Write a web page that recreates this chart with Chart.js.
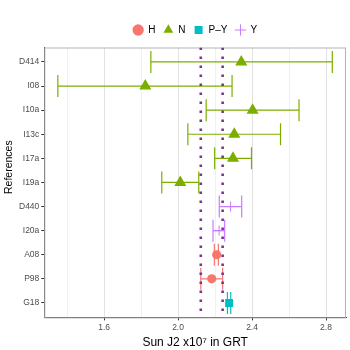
<!DOCTYPE html>
<html>
<head>
<meta charset="utf-8">
<script src="https://cdn.jsdelivr.net/npm/chart.js@4.4.1/dist/chart.umd.min.js"></script>
<style>
  body { margin: 0; background: #fff; }
  canvas { display: block; }
</style>
</head>
<body>
<canvas id="chart" width="350" height="350"></canvas>
<script>
// data
const categories = ["D414", "I08", "I10a", "I13c", "I17a", "I19a", "D440", "I20a", "A08", "P98", "G18"];
const groups = ["N", "N", "N", "N", "N", "N", "Y", "Y", "H", "H", "P-Y"];
const values = [2.342, 1.823, 2.403, 2.304, 2.297, 2.012, 2.284, 2.222, 2.209, 2.182, 2.276];
const lower = [1.853, 1.350, 2.152, 2.053, 2.198, 1.912, 2.223, 2.189, 2.196, 2.123, 2.267];
const upper = [2.834, 2.292, 2.654, 2.554, 2.397, 2.112, 2.344, 2.252, 2.218, 2.241, 2.285];
const refLines = [2.123, 2.241];
const xTicks = [1.4, 1.6, 1.8, 2.0, 2.2, 2.4, 2.6, 2.8];
const xLabelled = [1.6, 2.0, 2.4, 2.8];

const groupNames = ["H", "N", "P-Y", "Y"];
const groupLabels = { "H": "H", "N": "N", "P-Y": "P\u2013Y", "Y": "Y" };
const groupColors = { "H": "#F8766D", "N": "#7CAE00", "P-Y": "#00BFC4", "Y": "#C77CFF" };
const groupShapes = { "H": "circle", "N": "triangle", "P-Y": "rect", "Y": "cross" };
const groupSizes = { "H": 4.6, "N": 7, "P-Y": 5.6, "Y": 5 };

const FONT = "'Liberation Sans', Arial, sans-serif";

let datasets = [];

// points, one dataset per group (these make the legend)
groupNames.forEach((g) => {
  let pts = [];
  categories.forEach((c, i) => {
    if (groups[i] === g) pts.push({ x: values[i], y: i });
  });
  datasets.push({
    label: groupLabels[g],
    isLegend: true,
    xAxisID: "x",
    yAxisID: "y",
    data: pts,
    pointStyle: groupShapes[g],
    pointRadius: groupSizes[g],
    pointHoverRadius: groupSizes[g],
    backgroundColor: groupColors[g],
    borderColor: groupColors[g],
    borderWidth: g === "Y" ? 1 : 0,
    order: 0,
  });
});

// dotted reference lines
refLines.forEach((v) => {
  datasets.push({
    xAxisID: "x",
    yAxisID: "y",
    data: [{ x: v, y: -0.6 }, { x: v, y: 10.6 }],
    showLine: true,
    borderColor: "#7A3391",
    borderWidth: 2.6,
    borderDash: [2.6, 6.4],
    borderCapStyle: "butt",
    pointRadius: 0,
    order: 1,
  });
});

// error bars: horizontal segment + caps
categories.forEach((c, i) => {
  const col = groupColors[groups[i]];
  datasets.push({
    xAxisID: "x",
    yAxisID: "y",
    data: [{ x: lower[i], y: i }, { x: upper[i], y: i }],
    showLine: true,
    borderColor: col,
    borderWidth: 1.2,
    pointStyle: "line",
    rotation: 90,
    pointRadius: 11,
    pointHoverRadius: 11,
    pointBorderColor: col,
    pointBorderWidth: 1.2,
    order: 3,
  });
});

// light grey panel border behind the marks
const panelBorder = {
  id: "panelBorder",
  beforeDatasetsDraw(chart) {
    const a = chart.chartArea;
    const ctx = chart.ctx;
    ctx.save();
    ctx.strokeStyle = "#B3B3B3";
    ctx.lineWidth = 1;
    ctx.strokeRect(a.left + 0.5, a.top + 0.5, a.right - a.left - 1, a.bottom - a.top);
    ctx.restore();
  },
};

// y title sits a bit above the panel centre in the reference (centred on legend + panel)
const yTitle = {
  id: "yTitle",
  afterDraw(chart) {
    const ctx = chart.ctx;
    const legendTop = chart.legend.top;
    const yMid = (legendTop + chart.chartArea.bottom) / 2;
    ctx.save();
    ctx.translate(9.5, yMid);
    ctx.rotate(-Math.PI / 2);
    ctx.fillStyle = "#000";
    ctx.font = "10.5px " + FONT;
    ctx.textAlign = "center";
    ctx.textBaseline = "middle";
    ctx.fillText("References", 0, 0);
    ctx.restore();
  },
};

new Chart(document.getElementById("chart").getContext("2d"), {
  type: "scatter",
  data: { datasets: datasets },
  plugins: [panelBorder, yTitle],
  options: {
    responsive: false,
    animation: false,
    layout: { autoPadding: false, padding: { top: 17, right: 4, left: 17, bottom: 0 } },
    plugins: {
      tooltip: { enabled: false },
      legend: {
        position: "top",
        fullSize: false,
        labels: {
          filter: (item, data) => data.datasets[item.datasetIndex].isLegend,
          usePointStyle: true,
          boxWidth: 10,
          boxHeight: 8,
          padding: 8,
          color: "#000",
          font: { family: FONT, size: 10 },
        },
      },
    },
    scales: {
      x: {
        type: "linear",
        min: 1.277,
        max: 2.908,
        afterBuildTicks: (s) => { s.ticks = xTicks.map((v) => ({ value: v })); },
        ticks: {
          autoSkip: false,
          maxRotation: 0,
          color: "#4D4D4D",
          font: { family: FONT, size: 8.5 },
          padding: 2,
          callback: (v) => xLabelled.some((t) => Math.abs(t - v) < 1e-6) ? v.toFixed(1) : "",
        },
        grid: {
          color: (ctx) => xLabelled.some((t) => Math.abs(t - ctx.tick.value) < 1e-6) ? "#E2E2E2" : "#F0F0F0",
          tickColor: (ctx) => xLabelled.some((t) => Math.abs(t - ctx.tick.value) < 1e-6) ? "#333333" : "rgba(0,0,0,0)",
          tickLength: 3,
          lineWidth: 1,
        },
        border: { display: true, color: "#333333", width: 1 },
        title: {
          display: true,
          text: "Sun J2 x10\u2077 in GRT",
          color: "#000",
          font: { family: FONT, size: 12 },
          padding: { top: 1, bottom: 0 },
        },
      },
      // spacer between the legend and the panel
      gap: {
        type: "linear",
        position: "top",
        display: true,
        grid: { display: false },
        border: { display: false },
        ticks: { display: false },
        afterFit: (s) => { s.height = 2.5; },
      },
      y: {
        type: "linear",
        reverse: true,
        min: -0.6,
        max: 10.6,
        afterBuildTicks: (s) => { s.ticks = categories.map((c, i) => ({ value: i })); },
        ticks: {
          autoSkip: false,
          color: "#4D4D4D",
          font: { family: FONT, size: 8.5 },
          padding: 2,
          callback: (v) => categories[v] !== undefined ? categories[v] : "",
        },
        grid: {
          drawOnChartArea: false,
          drawTicks: true,
          tickLength: 3,
          tickColor: "#333333",
        },
        border: { display: true, color: "#333333", width: 1 },
        title: { display: false },
      },
    },
  },
});
</script>
</body>
</html>
